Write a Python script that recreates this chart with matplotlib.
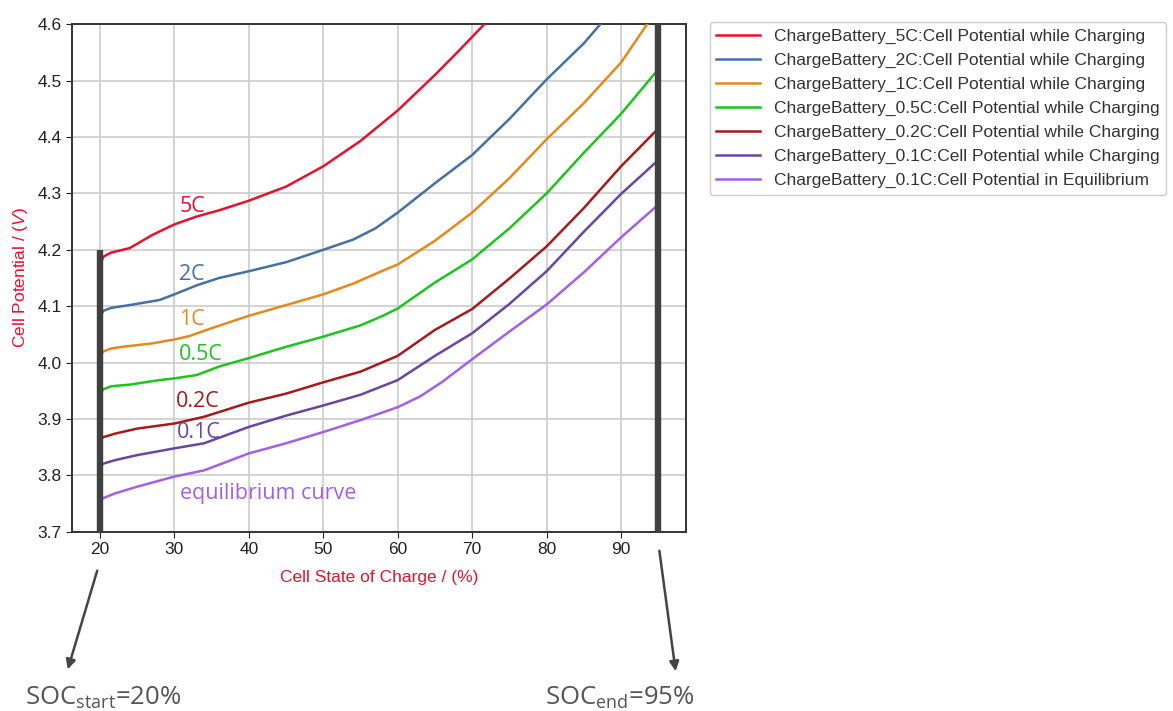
import matplotlib
matplotlib.use("Agg")
import matplotlib.pyplot as plt

plt.rcParams['font.family'] = ['Liberation Sans', 'DejaVu Sans']
plt.rcParams['mathtext.fontset'] = 'custom'
plt.rcParams['mathtext.rm'] = 'Open Sans'
plt.rcParams['mathtext.it'] = 'Liberation Sans:italic'

# state of charge (%) / cell potential (V)
soc_5c = [20, 20.5, 21.5, 24, 27, 30, 33, 36, 40, 45, 50, 55, 60, 65, 68, 72, 75]
v_5c = [4.175, 4.188, 4.195, 4.203, 4.226, 4.245, 4.259, 4.270, 4.287, 4.312, 4.348, 4.393,
        4.447, 4.510, 4.550, 4.605, 4.645]

soc_2c = [20, 20.5, 21.5, 24, 28, 30, 33, 36, 40, 45, 50, 54, 57, 60, 65, 70, 75, 80, 85, 88, 90]
v_2c = [4.083, 4.092, 4.097, 4.102, 4.111, 4.121, 4.137, 4.150, 4.162, 4.178, 4.200, 4.218,
        4.238, 4.266, 4.318, 4.368, 4.432, 4.502, 4.566, 4.612, 4.640]

soc_1c = [20, 20.5, 21.5, 23, 27, 30, 32, 35, 40, 45, 50, 54, 58, 60, 65, 70, 75, 80, 85, 90, 93.5, 96]
v_1c = [4.013, 4.020, 4.025, 4.028, 4.034, 4.041, 4.047, 4.061, 4.083, 4.102, 4.121, 4.140,
        4.163, 4.174, 4.216, 4.266, 4.327, 4.396, 4.460, 4.532, 4.600, 4.650]

soc_05c = [20, 20.5, 21.5, 24, 28, 30, 33, 36, 40, 45, 50, 55, 58, 60, 65, 70, 75, 80, 85, 90, 95]
v_05c = [3.945, 3.953, 3.958, 3.961, 3.969, 3.972, 3.978, 3.993, 4.008, 4.028, 4.046, 4.066,
         4.083, 4.096, 4.142, 4.183, 4.238, 4.300, 4.372, 4.441, 4.520]

soc_02c = [20, 20.5, 22, 25, 30, 34, 40, 45, 50, 55, 60, 65, 70, 75, 80, 85, 90, 95]
v_02c = [3.863, 3.868, 3.874, 3.883, 3.892, 3.904, 3.929, 3.945, 3.965, 3.984, 4.012, 4.058,
         4.095, 4.149, 4.206, 4.274, 4.348, 4.415]

soc_01c = [20, 20.5, 22, 25, 30, 34, 40, 45, 50, 55, 60, 65, 70, 75, 80, 85, 90, 95]
v_01c = [3.818, 3.821, 3.827, 3.836, 3.848, 3.857, 3.886, 3.906, 3.924, 3.943, 3.969, 4.012,
         4.052, 4.104, 4.162, 4.232, 4.299, 4.359]

soc_eq = [20, 20.5, 22, 25, 30, 34, 37, 40, 45, 50, 55, 60, 63, 66, 70, 75, 80, 85, 90, 95]
v_eq = [3.756, 3.760, 3.768, 3.780, 3.798, 3.809, 3.824, 3.839, 3.857, 3.877, 3.898, 3.921,
        3.940, 3.966, 4.006, 4.055, 4.103, 4.160, 4.222, 4.280]

series = [
    (soc_5c, v_5c, '#e8112d', 'ChargeBattery_5C:Cell Potential while Charging', '5C', 30.7, 4.267),
    (soc_2c, v_2c, '#4470a5', 'ChargeBattery_2C:Cell Potential while Charging', '2C', 30.6, 4.146),
    (soc_1c, v_1c, '#e6891c', 'ChargeBattery_1C:Cell Potential while Charging', '1C', 30.6, 4.066),
    (soc_05c, v_05c, '#1ec41e', 'ChargeBattery_0.5C:Cell Potential while Charging', '0.5C', 30.6, 4.004),
    (soc_02c, v_02c, '#a51a1a', 'ChargeBattery_0.2C:Cell Potential while Charging', '0.2C', 30.2, 3.922),
    (soc_01c, v_01c, '#6a46a2', 'ChargeBattery_0.1C:Cell Potential while Charging', '0.1C', 30.35, 3.866),
    (soc_eq, v_eq, '#a260e6', 'ChargeBattery_0.1C:Cell Potential in Equilibrium', 'equilibrium curve', 30.8, 3.759),
]

soc_start = 20
soc_end = 95
bar_top = [4.2, 4.6]

fig = plt.figure(figsize=(11.73, 7.11), dpi=100)
ax = fig.add_axes([0.0614, 0.252, 0.5236, 0.714])

for soc, v, col, lab, short, tx, ty in series:
    ax.plot(soc, v, color=col, lw=1.8, label=lab, zorder=3)
    ax.text(tx, ty, short, color=col, fontsize=15.5, family='Open Sans', va='baseline', zorder=4)

ax.vlines([soc_start, soc_end], 3.7, bar_top, color='#404040', lw=4.6, zorder=5)

ax.set_xlim(16.25, 98.75)
ax.set_ylim(3.7, 4.6)
ax.set_xticks([20, 30, 40, 50, 60, 70, 80, 90])
ax.set_yticks([3.7, 3.8, 3.9, 4.0, 4.1, 4.2, 4.3, 4.4, 4.5, 4.6])
ax.grid(True, color='#cccccc', lw=1.2)
ax.set_axisbelow(True)
ax.tick_params(labelsize=12.5, colors='#222222', length=4)
for sp in ax.spines.values():
    sp.set_color('#333333')
    sp.set_linewidth(1.4)

ax.set_xlabel('Cell State of Charge / (%)', color='#e8112d', fontsize=12.5, labelpad=9)
ax.set_ylabel('Cell Potential / ($V$)', color='#e8112d', fontsize=12.5, labelpad=5)

ax.legend(loc='upper left', bbox_to_anchor=(1.038, 1.004), borderaxespad=0,
          fontsize=12.5, handlelength=2.5, labelspacing=0.5, frameon=True,
          edgecolor='#cccccc', framealpha=1, labelcolor='#333333')

# SOC markers below the axis
ax.annotate('', xy=(67 / 1173, 1 - 672 / 711), xycoords='figure fraction',
            xytext=(98 / 1173, 1 - 568 / 711), textcoords='figure fraction',
            arrowprops=dict(arrowstyle='-|>', color='#444444', lw=1.8, mutation_scale=14))
ax.annotate('', xy=(676 / 1173, 1 - 674 / 711), xycoords='figure fraction',
            xytext=(659 / 1173, 1 - 548 / 711), textcoords='figure fraction',
            arrowprops=dict(arrowstyle='-|>', color='#444444', lw=1.8, mutation_scale=14))
fig.text(25 / 1173, 1 - 705 / 711, 'SOC$_{\\mathrm{start}}$=20%', family='Open Sans',
         fontsize=18.5, color='#555555', va='baseline')
fig.text(545 / 1173, 1 - 705 / 711, 'SOC$_{\\mathrm{end}}$=95%', family='Open Sans',
         fontsize=18.5, color='#555555', va='baseline')

fig.savefig('out.png', dpi=100)
